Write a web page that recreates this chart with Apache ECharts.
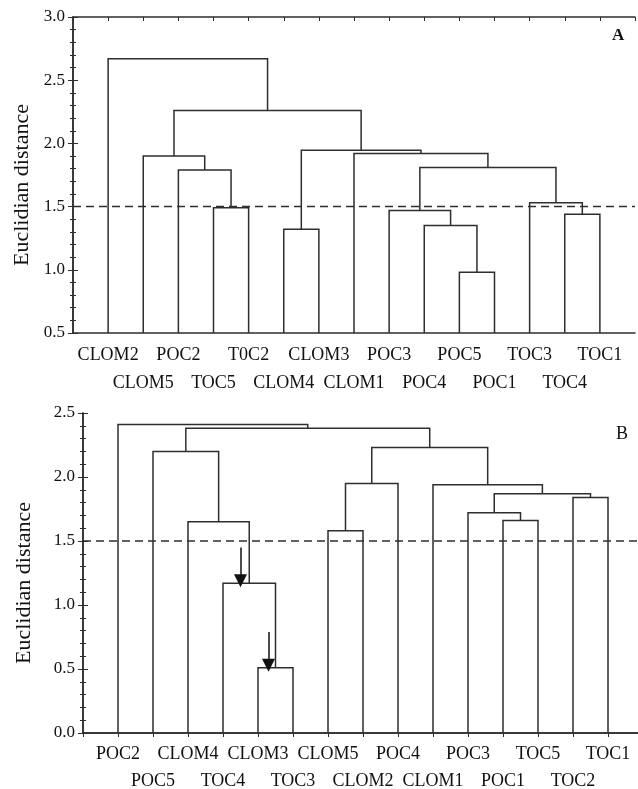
<!DOCTYPE html>
<html><head><meta charset="utf-8">
<script src="https://cdn.jsdelivr.net/npm/echarts@6/dist/echarts.min.js"></script>
<style>html,body{margin:0;padding:0;background:#fff}#c{width:638px;height:789px}</style>
</head><body><div id="c"></div>
<script>
// ---- Panel A data ----
const leavesA = ['CLOM2','CLOM5','POC2','TOC5','T0C2','CLOM4','CLOM3','CLOM1','POC3','POC4','POC5','POC1','TOC3','TOC4','TOC1'];
// [newNode, childLeft, childRight, height]
const mergesA = [
  ['a1','TOC5','T0C2',1.49],
  ['a2','POC2','a1',1.79],
  ['a3','CLOM5','a2',1.90],
  ['a4','CLOM4','CLOM3',1.32],
  ['a5','POC5','POC1',0.98],
  ['a6','POC4','a5',1.35],
  ['a7','POC3','a6',1.47],
  ['a8','TOC4','TOC1',1.44],
  ['a9','TOC3','a8',1.53],
  ['a10','a7','a9',1.81],
  ['a11','CLOM1','a10',1.92],
  ['a12','a4','a11',1.945],
  ['a13','a3','a12',2.26],
  ['a14','CLOM2','a13',2.67]
];
const yTicksA = [0.5, 3.0];
const cutA = 1.5;

// ---- Panel B data ----
const leavesB = ['POC2','POC5','CLOM4','TOC4','CLOM3','TOC3','CLOM5','CLOM2','POC4','CLOM1','POC3','POC1','TOC5','TOC2','TOC1'];
const mergesB = [
  ['b1','CLOM3','TOC3',0.51],
  ['b2','TOC4','b1',1.17],
  ['b3','CLOM4','b2',1.65],
  ['b4','POC5','b3',2.20],
  ['b5','CLOM5','CLOM2',1.58],
  ['b6','POC4','b5',1.95],
  ['b7','POC1','TOC5',1.66],
  ['b8','POC3','b7',1.72],
  ['b9','TOC2','TOC1',1.84],
  ['b10','b8','b9',1.87],
  ['b11','CLOM1','b10',1.94],
  ['b12','b6','b11',2.23],
  ['b13','b4','b12',2.38],
  ['b14','POC2','b13',2.41]
];
const yTicksB = [0.0, 2.5];
const cutB = 1.5;
// arrows in panel B: [x, yFrom, yTo]
const arrowsB = [[4.5, 1.45, 1.19], [5.3, 0.79, 0.53]];

const FONT = 'Liberation Serif';
const INK = '#2e2e2e';
const TXT = '#111';

function build(leaves, merges, base){
  const pos = {};
  leaves.forEach((n,i)=>{ pos[n] = {x:i+1, h:base}; });
  const segs = [];
  merges.forEach(([id,a,b,h])=>{
    const A = pos[a], B = pos[b];
    segs.push([A.x, A.h, B.x, B.h, h]);
    pos[id] = {x:(A.x+B.x)/2, h:h};
  });
  return segs;
}
function fmt(leaves){
  return v => {
    const i = Math.round(v) - 1;
    if (i < 0 || i >= leaves.length) return '';
    return i % 2 === 0 ? leaves[i] : '\n' + leaves[i];
  };
}
function renderSeg(params, api){
  const p1 = api.coord([api.value(0), api.value(1)]);
  const p2 = api.coord([api.value(0), api.value(4)]);
  const p3 = api.coord([api.value(2), api.value(4)]);
  const p4 = api.coord([api.value(2), api.value(3)]);
  return {type:'polyline', shape:{points:[p1,p2,p3,p4]}, style:{stroke:INK, lineWidth:1.5, fill:null}};
}

const axisLine = {show:true, lineStyle:{color:INK, width:1.5}};
function xAxes(g, leaves, lh){
  const n = leaves.length + 1;
  return [
    {gridIndex:g, type:'value', min:0, max:n, interval:1, position:'bottom',
     axisLine, axisTick:{show:false}, splitLine:{show:false},
     axisLabel:{formatter:fmt(leaves), fontFamily:FONT, fontSize:18, color:TXT, lineHeight:lh, margin:8, hideOverlap:false}},
    {gridIndex:g, type:'value', min:0, max:n, interval:1, position:'top',
     axisLine, axisTick:{show:true, inside:true, length:4, lineStyle:{color:INK}}, axisLabel:{show:false}, splitLine:{show:false}}
  ];
}
function yAxes(g, ticks, gap){
  const base = {gridIndex:g, type:'value', min:ticks[0], max:ticks[1], interval:0.5,
    axisLine, axisTick:{show:true, inside:true, length:5, lineStyle:{color:INK}},
    minorTick:{show:true, splitNumber:5, length:3, lineStyle:{color:INK}},
    splitLine:{show:false}, minorSplitLine:{show:false}};
  return [
    Object.assign({}, base, {position:'left',
      axisLabel:{formatter:v=>v.toFixed(1), fontFamily:FONT, fontSize:17, color:TXT, margin:8},
      name:'Euclidian distance', nameLocation:'middle', nameGap:gap, nameRotate:90,
      nameTextStyle:{fontFamily:FONT, fontSize:22, color:TXT, padding:[0,20,0,0]}}),
    Object.assign({}, base, {position:'right', axisLabel:{show:false}})
  ];
}

const segA = build(leavesA, mergesA, yTicksA[0]);
const segB = build(leavesB, mergesB, yTicksB[0]);

const chart = echarts.init(document.getElementById('c'), null, {renderer:'canvas'});
chart.setOption({
  animation:false,
  backgroundColor:'#fff',
  grid:[
    {left:73, top:17, width:562, height:316, outerBoundsMode:'none', containLabel:false},
    {left:83, top:413, width:560, height:320, outerBoundsMode:'none', containLabel:false}
  ],
  xAxis:[...xAxes(0, leavesA, 28), ...xAxes(1, leavesB, 27)],
  yAxis:[...yAxes(0, yTicksA, 40), ...yAxes(1, yTicksB, 48)],
  graphic:[
    {type:'text', left:612, top:27, style:{text:'A', font:'bold 17px "Liberation Serif"', fill:TXT}},
    {type:'text', left:616, top:425, style:{text:'B', font:'18px "Liberation Serif"', fill:TXT}}
  ],
  series:[
    {type:'custom', xAxisIndex:0, yAxisIndex:0, renderItem:renderSeg, data:segA,
     encode:{x:[0,2], y:[1,3,4]}, silent:true},
    {type:'line', xAxisIndex:0, yAxisIndex:0, data:[[0,cutA],[leavesA.length+1,cutA]], symbol:'none',
     lineStyle:{color:INK, width:1.5, type:[8,5]}, silent:true},
    {type:'custom', xAxisIndex:2, yAxisIndex:2, renderItem:renderSeg, data:segB,
     encode:{x:[0,2], y:[1,3,4]}, silent:true},
    {type:'line', xAxisIndex:2, yAxisIndex:2, data:[[0,cutB],[leavesB.length+1,cutB]], symbol:'none',
     lineStyle:{color:INK, width:1.5, type:[8,5]}, silent:true},
    {type:'lines', coordinateSystem:'cartesian2d', xAxisIndex:2, yAxisIndex:2,
     data:arrowsB.map(a=>({coords:[[a[0],a[1]],[a[0],a[2]]]})),
     symbol:['none','triangle'], symbolSize:[11,13],
     lineStyle:{color:'#111', width:1.5, opacity:1}, silent:true}
  ]
});
</script></body></html>
